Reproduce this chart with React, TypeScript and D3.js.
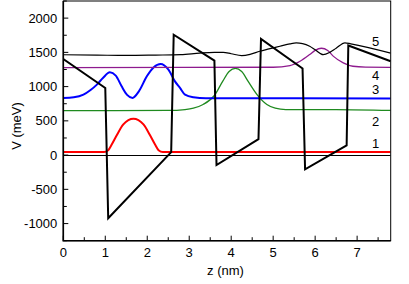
import React, { useEffect, useRef } from "react";
import * as d3 from "d3";

// potential profile (z in nm, V in meV)
const potZ = [0, 1.0, 1.07, 2.57, 2.63, 3.6, 3.65, 4.65, 4.71, 5.7, 5.76, 6.75, 6.79, 7.8];
const potV = [1403, 980, -922, 44, 1757, 1380, -146, 233, 1697, 1265, -208, 141, 1600, 1370];

// wavefunctions |psi|^2 shifted by their energy
const w1Z = [0, 0.97, 1.07, 1.15, 1.27, 1.43, 1.55, 1.67, 1.79, 1.91, 2.07, 2.19, 2.27, 2.37, 7.8];
const w1V = [45, 45, 72, 150, 286, 447, 510, 530, 510, 447, 286, 150, 72, 45, 45];

const w2Z = [0, 2.5, 2.9, 3.1, 3.33, 3.6, 3.8, 3.95, 4.1, 4.25, 4.4, 4.62, 4.85, 5.05, 5.3, 6.5, 7.8];
const w2V = [650, 652, 665, 685, 739, 870, 1080, 1220, 1265, 1220, 1080, 880, 739, 685, 665, 664, 652];

const w3Z = [0, 0.25, 0.48, 0.65, 0.8, 0.95, 1.11, 1.25, 1.39, 1.52, 1.65, 1.8, 1.99, 2.15, 2.32, 2.5, 2.66, 2.78, 2.9, 3.1, 3.4, 7.8];
const w3V = [835, 845, 883, 950, 1029, 1130, 1208, 1160, 1004, 880, 835, 930, 1150, 1280, 1330, 1250, 1077, 981, 883, 845, 830, 828];

const w4Z = [0, 5.0, 5.4, 5.64, 5.87, 6.0, 6.15, 6.3, 6.43, 6.67, 6.9, 7.2, 7.8];
const w4V = [1278, 1283, 1307, 1370, 1468, 1530, 1560, 1528, 1445, 1347, 1297, 1285, 1282];

const w5Z = [0, 0.8, 1.5, 2.2, 2.8, 3.25, 3.6, 3.81, 4.0, 4.25, 4.45, 4.68, 4.9, 5.16, 5.4, 5.55, 5.7, 5.87, 6.0, 6.19, 6.35, 6.5, 6.71, 6.85, 7.8];
const w5V = [1465, 1460, 1455, 1460, 1466, 1490, 1500, 1500, 1480, 1452, 1470, 1516, 1550, 1589, 1625, 1638, 1628, 1589, 1538, 1466, 1500, 1560, 1640, 1625, 1490];

const levelLabels = ["1", "2", "3", "4", "5"];
const xTicks = [0, 1, 2, 3, 4, 5, 6, 7];
const yTicks = [-1000, -500, 0, 500, 1000, 1500, 2000];

const width = 409;
const height = 284;
const margin = { top: 1, right: 18.3, bottom: 43.3, left: 63.3 };

const App = () => {
  const ref = useRef<SVGSVGElement>(null);

  useEffect(() => {
    const svg = d3.select(ref.current);
    svg.selectAll("*").remove();

    const x = d3.scaleLinear().domain([0, 7.8]).range([margin.left, width - margin.right]);
    const y = d3.scaleLinear().domain([-1250, 2250]).range([height - margin.bottom, margin.top]);
    const font = "'Liberation Sans', Arial, sans-serif";

    svg
      .append("clipPath")
      .attr("id", "plotclip")
      .append("rect")
      .attr("x", x(0))
      .attr("y", y(2250))
      .attr("width", x(7.8) - x(0))
      .attr("height", y(-1250) - y(2250));

    const plot = svg.append("g").attr("clip-path", "url(#plotclip)");

    // zero line
    plot
      .append("line")
      .attr("x1", x(0))
      .attr("x2", x(7.8))
      .attr("y1", Math.round(y(0)) + 0.5)
      .attr("y2", Math.round(y(0)) + 0.5)
      .attr("stroke", "#000")
      .attr("stroke-width", 1);

    const smooth = d3
      .line<[number, number]>()
      .x((d) => x(d[0]))
      .y((d) => y(d[1]))
      .curve(d3.curveMonotoneX);

    const waves = [
      { z: w1Z, v: w1V, color: "#ff0000", w: 2 },
      { z: w2Z, v: w2V, color: "#1f8a1f", w: 1.3 },
      { z: w3Z, v: w3V, color: "#0000ff", w: 2 },
      { z: w4Z, v: w4V, color: "#8e1a8e", w: 1.3 },
      { z: w5Z, v: w5V, color: "#000000", w: 1.2 },
    ];
    waves.forEach((s) => {
      plot
        .append("path")
        .attr("d", smooth(s.z.map((z, i) => [z, s.v[i]] as [number, number])))
        .attr("fill", "none")
        .attr("stroke", s.color)
        .attr("stroke-width", s.w);
    });

    // potential (straight segments)
    const straight = d3
      .line<[number, number]>()
      .x((d) => x(d[0]))
      .y((d) => y(d[1]));
    plot
      .append("path")
      .attr("d", straight(potZ.map((z, i) => [z, potV[i]] as [number, number])))
      .attr("fill", "none")
      .attr("stroke", "#000")
      .attr("stroke-width", 2)
      .attr("stroke-linejoin", "miter");

    // frame
    svg
      .append("rect")
      .attr("x", x(0))
      .attr("y", y(2250))
      .attr("width", x(7.8) - x(0))
      .attr("height", y(-1250) - y(2250))
      .attr("fill", "none")
      .attr("stroke", "#000")
      .attr("stroke-width", 1);
    svg
      .append("path")
      .attr("d", `M${x(0)},${y(2250)}V${y(-1250)}H${x(7.8)}`)
      .attr("fill", "none")
      .attr("stroke", "#000")
      .attr("stroke-width", 1.6);

    // ticks (inward)
    const yMinor = d3.range(-1250, 2251, 250);
    svg
      .selectAll(".ytk")
      .data(yMinor)
      .join("line")
      .attr("x1", x(0))
      .attr("x2", (d) => x(0) + (d % 500 === 0 ? 5 : 3.5))
      .attr("y1", (d) => y(d))
      .attr("y2", (d) => y(d))
      .attr("stroke", "#000")
      .attr("stroke-width", 1);
    const xMinor = d3.range(0, 7.81, 0.5);
    svg
      .selectAll(".xtk")
      .data(xMinor)
      .join("line")
      .attr("x1", (d) => x(d))
      .attr("x2", (d) => x(d))
      .attr("y1", y(-1250))
      .attr("y2", (d) => y(-1250) - (d % 1 === 0 ? 5 : 3.5))
      .attr("stroke", "#000")
      .attr("stroke-width", 1);

    // tick labels
    svg
      .selectAll(".ylab")
      .data(yTicks)
      .join("text")
      .attr("x", x(0) - 6)
      .attr("y", (d) => y(d))
      .attr("dy", "0.35em")
      .attr("text-anchor", "end")
      .attr("font-family", font)
      .attr("font-size", 13)
      .text((d) => String(d));
    svg
      .selectAll(".xlab")
      .data(xTicks)
      .join("text")
      .attr("x", (d) => x(d))
      .attr("y", 257)
      .attr("text-anchor", "middle")
      .attr("font-family", font)
      .attr("font-size", 13)
      .text((d) => String(d));

    // axis titles
    svg
      .append("text")
      .attr("x", 225.5)
      .attr("y", 275)
      .attr("text-anchor", "middle")
      .attr("font-family", font)
      .attr("font-size", 13)
      .text("z (nm)");
    svg
      .append("text")
      .attr("transform", "translate(20.5,126) rotate(-90)")
      .attr("text-anchor", "middle")
      .attr("font-family", font)
      .attr("font-size", 13)
      .text("V (meV)");

    // level labels near right edge
    const labelY = [147.5, 125.5, 94, 80, 45.7];
    svg
      .selectAll(".lvl")
      .data(levelLabels)
      .join("text")
      .attr("x", 375.7)
      .attr("y", (d, i) => labelY[i])
      .attr("text-anchor", "middle")
      .attr("font-family", font)
      .attr("font-size", 13)
      .text((d) => d);
  }, []);

  return (
    <svg
      ref={ref}
      width={width}
      height={height}
      style={{ position: "absolute", left: 0, top: 0, background: "#fff" }}
    ></svg>
  );
};

export default App;
